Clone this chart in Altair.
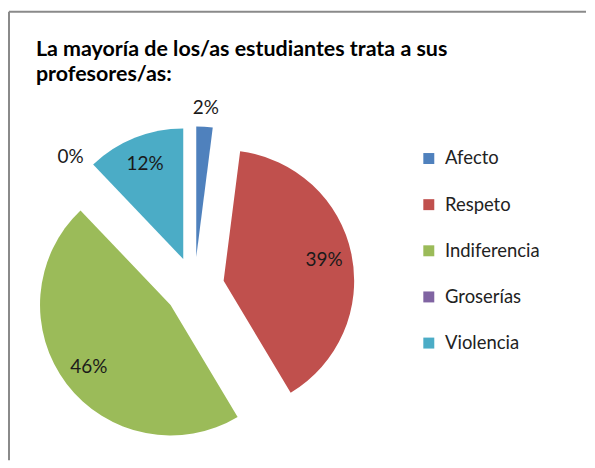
import altair as alt
import pandas as pd

categories = ["Afecto", "Respeto", "Indiferencia", "Groserías", "Violencia"]
values = [2, 39, 46, 0, 12]
colors = ["#4F81BD", "#C0504D", "#9BBB59", "#8064A2", "#4BACC6"]
title_lines = ["La mayoría de los/as estudiantes trata a sus", "profesores/as:"]

df = pd.DataFrame({"cat": categories, "value": values, "order": list(range(len(categories)))})

W, H = 579, 450
CX, CY = 186, 276
R = 131
EXPLODE = 30

base = (
    alt.Chart(df)
    .transform_window(cum="sum(value)", sort=[{"field": "order"}], frame=[None, 0])
    .transform_joinaggregate(total="sum(value)")
    .transform_calculate(
        t0="(datum.cum - datum.value) / datum.total * 2 * PI",
        t1="datum.cum / datum.total * 2 * PI",
    )
    .transform_calculate(
        mid="(datum.t0 + datum.t1) / 2",
        pct="format(datum.value / datum.total, '.0%')",
        lr="datum.value < 5 ? 150 : 103",
    )
)

xo = alt.expr(f"{EXPLODE} * sin(datum.mid)")
yo = alt.expr(f"-{EXPLODE} * cos(datum.mid)")

arcs = base.mark_arc(radius=R, xOffset=xo, yOffset=yo).encode(
    theta=alt.Theta("t0:Q", scale=None),
    theta2="t1:Q",
    color=alt.Color(
        "cat:N",
        scale=alt.Scale(domain=categories, range=colors),
        legend=alt.Legend(
            orient="none", legendX=412, legendY=138, title=None,
            symbolType="square", symbolSize=121, symbolStrokeWidth=0,
            labelFont="Lato", labelFontSize=18.5, labelColor="#222222",
            rowPadding=27.3, labelOffset=7,
        ),
    ),
    x=alt.value(CX),
    y=alt.value(CY),
)

labels = base.mark_text(
    font="Lato", fontSize=19, color="#1a1a1a", xOffset=xo, yOffset=yo,
    align="center", baseline="middle",
).encode(
    theta=alt.Theta("mid:Q", scale=None),
    radius=alt.Radius("lr:Q", scale=None),
    text="pct:N",
    x=alt.value(CX),
    y=alt.value(CY),
)

frame_df = pd.DataFrame({"a": [0]})
frame_left = alt.Chart(frame_df).mark_rule(color="#8a8a8a", strokeWidth=2).encode(
    x=alt.value(0), y=alt.value(0), y2=alt.value(H)
)
frame_top = alt.Chart(frame_df).mark_rule(color="#8a8a8a", strokeWidth=2).encode(
    y=alt.value(0), x=alt.value(0), x2=alt.value(W)
)

title = alt.Chart(frame_df).mark_text(
    text=title_lines, font="Lato", fontSize=21.5, fontWeight="bold", color="#000000",
    align="left", baseline="alphabetic", lineHeight=25,
).encode(x=alt.value(27), y=alt.value(44))

chart = (
    alt.layer(frame_left, frame_top, arcs, labels, title)
    .properties(width=W, height=H, padding={"left": 0, "top": 2, "right": 0, "bottom": 0})
    .configure_view(stroke=None)
)

chart.save("out.html", embed_options={"renderer": "svg", "actions": False})
